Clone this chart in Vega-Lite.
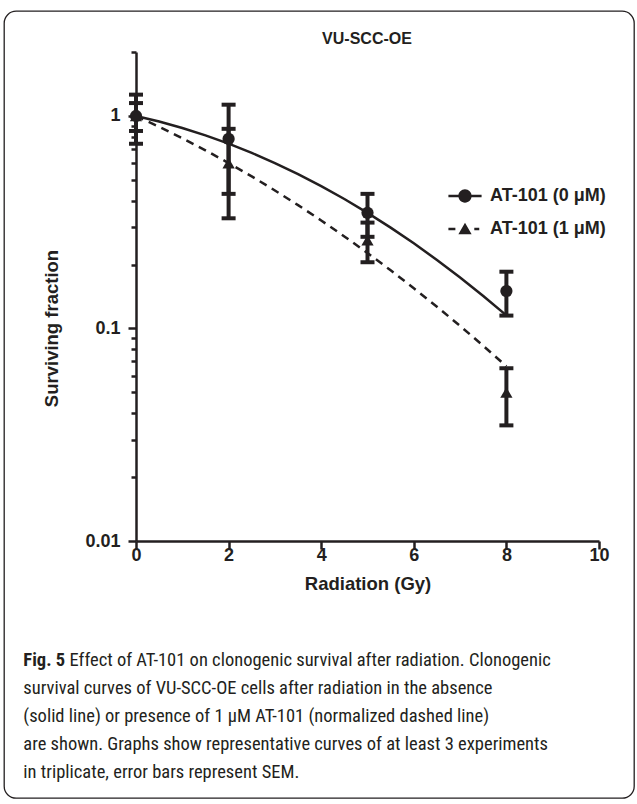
{
  "$schema": "https://vega.github.io/schema/vega-lite/v6.json",
  "padding": {"left": 3, "top": 10, "right": 4, "bottom": 7},
  "config": {
    "view": {"stroke": "#231f20", "strokeWidth": 1.3, "cornerRadius": 12},
    "axis": {
      "grid": false, "labelFlush": false,
      "domainColor": "#231f20", "domainWidth": 2.5,
      "tickColor": "#231f20", "tickWidth": 2.5,
      "labelFont": "Liberation Sans", "labelFontWeight": "bold", "labelFontSize": 18, "labelColor": "#231f20",
      "titleFont": "Liberation Sans", "titleFontWeight": "bold", "titleFontSize": 18.5, "titleColor": "#231f20"
    }
  },
  "datasets": {
    "curves": [
      {"series": "AT-101 (0 μM)", "dose": 0, "sf": 1.0},
      {"series": "AT-101 (0 μM)", "dose": 0.5, "sf": 0.9418},
      {"series": "AT-101 (0 μM)", "dose": 1, "sf": 0.8781},
      {"series": "AT-101 (0 μM)", "dose": 1.5, "sf": 0.8106},
      {"series": "AT-101 (0 μM)", "dose": 2, "sf": 0.7408},
      {"series": "AT-101 (0 μM)", "dose": 2.5, "sf": 0.6703},
      {"series": "AT-101 (0 μM)", "dose": 3, "sf": 0.6005},
      {"series": "AT-101 (0 μM)", "dose": 3.5, "sf": 0.5326},
      {"series": "AT-101 (0 μM)", "dose": 4, "sf": 0.4677},
      {"series": "AT-101 (0 μM)", "dose": 4.5, "sf": 0.4066},
      {"series": "AT-101 (0 μM)", "dose": 5, "sf": 0.3499},
      {"series": "AT-101 (0 μM)", "dose": 5.5, "sf": 0.2982},
      {"series": "AT-101 (0 μM)", "dose": 6, "sf": 0.2516},
      {"series": "AT-101 (0 μM)", "dose": 6.5, "sf": 0.2101},
      {"series": "AT-101 (0 μM)", "dose": 7, "sf": 0.1738},
      {"series": "AT-101 (0 μM)", "dose": 7.5, "sf": 0.1423},
      {"series": "AT-101 (0 μM)", "dose": 8, "sf": 0.1153},
      {"series": "AT-101 (1 μM)", "dose": 0, "sf": 1.0},
      {"series": "AT-101 (1 μM)", "dose": 0.5, "sf": 0.8896},
      {"series": "AT-101 (1 μM)", "dose": 1, "sf": 0.7859},
      {"series": "AT-101 (1 μM)", "dose": 1.5, "sf": 0.6894},
      {"series": "AT-101 (1 μM)", "dose": 2, "sf": 0.6005},
      {"series": "AT-101 (1 μM)", "dose": 2.5, "sf": 0.5194},
      {"series": "AT-101 (1 μM)", "dose": 3, "sf": 0.4462},
      {"series": "AT-101 (1 μM)", "dose": 3.5, "sf": 0.3806},
      {"series": "AT-101 (1 μM)", "dose": 4, "sf": 0.3224},
      {"series": "AT-101 (1 μM)", "dose": 4.5, "sf": 0.2712},
      {"series": "AT-101 (1 μM)", "dose": 5, "sf": 0.2265},
      {"series": "AT-101 (1 μM)", "dose": 5.5, "sf": 0.1879},
      {"series": "AT-101 (1 μM)", "dose": 6, "sf": 0.1547},
      {"series": "AT-101 (1 μM)", "dose": 6.5, "sf": 0.1266},
      {"series": "AT-101 (1 μM)", "dose": 7, "sf": 0.1028},
      {"series": "AT-101 (1 μM)", "dose": 7.5, "sf": 0.0829},
      {"series": "AT-101 (1 μM)", "dose": 8, "sf": 0.0664}
    ],
    "points": [
      {"series": "AT-101 (0 μM)", "dose": 0, "sf": 1.0, "lo": 0.74, "hi": 1.26},
      {"series": "AT-101 (0 μM)", "dose": 2, "sf": 0.78, "lo": 0.43, "hi": 1.13},
      {"series": "AT-101 (0 μM)", "dose": 5, "sf": 0.35, "lo": 0.27, "hi": 0.43},
      {"series": "AT-101 (0 μM)", "dose": 8, "sf": 0.15, "lo": 0.115, "hi": 0.185},
      {"series": "AT-101 (1 μM)", "dose": 0, "sf": 1.0, "lo": 0.85, "hi": 1.15},
      {"series": "AT-101 (1 μM)", "dose": 2, "sf": 0.6, "lo": 0.33, "hi": 0.87},
      {"series": "AT-101 (1 μM)", "dose": 5, "sf": 0.26, "lo": 0.205, "hi": 0.315},
      {"series": "AT-101 (1 μM)", "dose": 8, "sf": 0.05, "lo": 0.035, "hi": 0.065}
    ]
  },
  "title": {
    "text": "Fig. 5",
    "subtitle": [
      "\u2800\u00a0\u00a0\u00a0\u00a0\u00a0\u00a0\u00a0\u00a0Effect of AT-101 on clonogenic survival after radiation. Clonogenic",
      "survival curves of VU-SCC-OE cells after radiation in the absence",
      "(solid line) or presence of 1 μM AT-101 (normalized dashed line)",
      "are shown. Graphs show representative curves of at least 3 experiments",
      "in triplicate, error bars represent SEM."
    ],
    "orient": "bottom",
    "anchor": "start",
    "offset": -148,
    "dx": 20,
    "font": "Liberation Sans Narrow, Roboto Condensed, DejaVu Sans Condensed, Roboto",
    "fontSize": 18.5,
    "fontWeight": "bold",
    "color": "#231f20",
    "subtitleFont": "Liberation Sans Narrow, Roboto Condensed, DejaVu Sans Condensed, Roboto",
    "subtitleFontSize": 18.5,
    "subtitleFontWeight": "normal",
    "subtitleColor": "#231f20",
    "subtitleLineHeight": 28,
    "subtitlePadding": -18.5
  },
  "vconcat": [
    {
      "width": 630,
      "height": 787,
      "title": {
        "text": "VU-SCC-OE",
        "anchor": "middle",
        "dx": 48,
        "offset": -36,
        "font": "Liberation Sans",
        "fontSize": 16,
        "fontWeight": "bold",
        "color": "#231f20"
      },
      "layer": [
        {
          "data": {"name": "curves"},
          "transform": [{"filter": "datum.series === 'AT-101 (0 μM)'"}],
          "mark": {"type": "line", "color": "#231f20", "strokeWidth": 2.5},
          "encoding": {
            "x": {
              "field": "dose", "type": "quantitative",
              "scale": {"domain": [0, 10], "range": [132, 595], "nice": false},
              "axis": {
                "orient": "bottom", "offset": -257,
                "values": [0, 2, 4, 6, 8, 10], "format": "d", "tickSize": 8, "labelPadding": -3,
                "title": "Radiation (Gy)", "titlePadding": 10
              }
            },
            "y": {
              "field": "sf", "type": "quantitative",
              "scale": {"type": "log", "domain": [0.01, 2], "range": [530, 41], "nice": false},
              "axis": {
                "orient": "left", "offset": -132,
                "values": [0.01, 0.02, 0.03, 0.04, 0.05, 0.06, 0.07, 0.08, 0.09, 0.1, 0.2, 0.3, 0.4, 0.5, 0.6, 0.7, 0.8, 0.9, 1, 2],
                "format": "~g",
                "labelExpr": "datum.value == 1 || datum.value == 0.1 || datum.value == 0.01 ? datum.label : ''",
                "tickSize": {"condition": {"test": "datum.value == 1 || datum.value == 0.1 || datum.value == 0.01", "value": 8}, "value": 5},
                "labelPadding": 8,
                "title": "Surviving fraction", "titlePadding": 23, "titleY": 317
              }
            }
          }
        },
        {
          "data": {"name": "curves"},
          "transform": [{"filter": "datum.series === 'AT-101 (1 μM)'"}],
          "mark": {"type": "line", "color": "#231f20", "strokeWidth": 2.5, "strokeDash": [8, 6]},
          "encoding": {
            "x": {"field": "dose", "type": "quantitative"},
            "y": {"field": "sf", "type": "quantitative"}
          }
        },
        {
          "data": {"name": "points"},
          "mark": {"type": "rule", "color": "#231f20", "strokeWidth": 4},
          "encoding": {
            "x": {"field": "dose", "type": "quantitative"},
            "y": {"field": "lo", "type": "quantitative"},
            "y2": {"field": "hi"}
          }
        },
        {
          "data": {"name": "points"},
          "mark": {"type": "tick", "orient": "horizontal", "color": "#231f20", "size": 14, "thickness": 4, "opacity": 1},
          "encoding": {
            "x": {"field": "dose", "type": "quantitative"},
            "y": {"field": "lo", "type": "quantitative"}
          }
        },
        {
          "data": {"name": "points"},
          "mark": {"type": "tick", "orient": "horizontal", "color": "#231f20", "size": 14, "thickness": 4, "opacity": 1},
          "encoding": {
            "x": {"field": "dose", "type": "quantitative"},
            "y": {"field": "hi", "type": "quantitative"}
          }
        },
        {
          "data": {"name": "points"},
          "mark": {"type": "point", "filled": true, "color": "#231f20", "opacity": 1, "size": 4},
          "encoding": {
            "x": {"field": "dose", "type": "quantitative"},
            "y": {"field": "sf", "type": "quantitative"},
            "shape": {
              "field": "series", "type": "nominal",
              "scale": {
                "domain": ["AT-101 (0 μM)", "AT-101 (1 μM)"],
                "range": [
                  "M-1,-0.08H-0.33V0.08H-1Z M0.33,-0.08H1V0.08H0.33Z M-0.4,0A0.4,0.4 0 1,1 0.4,0A0.4,0.4 0 1,1 -0.4,0Z",
                  "M-1,-0.08H-0.58V0.08H-1Z M0.56,-0.08H0.86V0.08H0.56Z M-0.4,0.32L0,-0.38L0.4,0.32Z"
                ]
              },
              "legend": {
                "title": null,
                "orient": "none", "legendX": 444, "legendY": 168,
                "symbolSize": 1100, "symbolStrokeWidth": 0,
                "symbolFillColor": "#231f20", "symbolOpacity": 1,
                "labelFont": "Liberation Sans", "labelFontWeight": "bold", "labelFontSize": 18, "labelColor": "#231f20",
                "labelOffset": 8, "rowPadding": 7
              }
            }
          }
        },
        {
          "data": {"name": "points"},
          "transform": [{"filter": "datum.series === 'AT-101 (0 μM)'"}],
          "mark": {"type": "point", "shape": "circle", "filled": true, "color": "#231f20", "opacity": 1, "size": 150},
          "encoding": {
            "x": {"field": "dose", "type": "quantitative"},
            "y": {"field": "sf", "type": "quantitative"}
          }
        },
        {
          "data": {"name": "points"},
          "transform": [{"filter": "datum.series === 'AT-101 (1 μM)'"}],
          "mark": {"type": "point", "shape": "triangle-up", "filled": true, "color": "#231f20", "opacity": 1, "size": 150},
          "encoding": {
            "x": {"field": "dose", "type": "quantitative"},
            "y": {"field": "sf", "type": "quantitative"}
          }
        }
      ]
    }
  ]
}
